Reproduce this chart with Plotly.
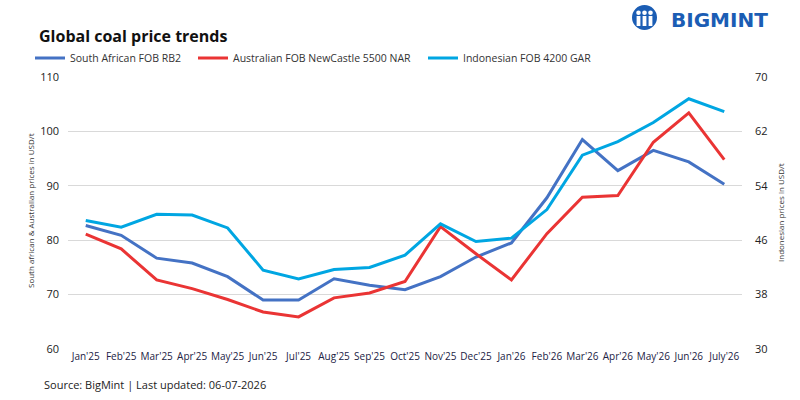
import plotly.graph_objects as go

months = ["Jan'25", "Feb'25", "Mar'25", "Apr'25", "May'25", "Jun'25", "Jul'25", "Aug'25",
          "Sep'25", "Oct'25", "Nov'25", "Dec'25", "Jan'26", "Feb'26", "Mar'26", "Apr'26",
          "May'26", "Jun'26", "July'26"]
south_african = [82.7, 80.9, 76.7, 75.8, 73.3, 69.0, 69.0, 72.9, 71.7, 70.9, 73.3, 76.9,
                 79.5, 87.8, 98.5, 92.8, 96.5, 94.4, 90.3]
australian = [81.1, 78.4, 72.7, 71.1, 69.1, 66.8, 65.9, 69.4, 70.3, 72.4, 82.5, 77.5,
              72.7, 81.2, 87.9, 88.2, 98.0, 103.4, 94.8]
indonesian = [48.9, 47.9, 49.8, 49.7, 47.8, 41.6, 40.3, 41.7, 42.0, 43.8, 48.4, 45.8,
              46.3, 50.5, 58.5, 60.5, 63.3, 66.8, 64.9]

left_ticks = [60, 70, 80, 90, 100, 110]
right_ticks = [30, 38, 46, 54, 62, 70]

FONT = "Open Sans"
BLUE = "#4472C4"
RED = "#EA3434"
CYAN = "#00A6E2"
LOGO = "#1B5DB4"

# plot-area geometry in pixels (for paper-coordinate conversions of decorations)
PL, PR, PT, PB = 68, 742, 77, 349


def px(x):
    return (x - PL) / (PR - PL)


def py(y):
    return (PB - y) / (PB - PT)


fig = go.Figure()
fig.add_trace(go.Scatter(x=months, y=south_african, name="South African FOB RB2",
                         mode="lines", line=dict(color=BLUE, width=3), legendwidth=118))
fig.add_trace(go.Scatter(x=months, y=australian, name="Australian FOB NewCastle 5500 NAR",
                         mode="lines", line=dict(color=RED, width=3), legendwidth=185))
fig.add_trace(go.Scatter(x=months, y=indonesian, name="Indonesian FOB 4200 GAR",
                         mode="lines", line=dict(color=CYAN, width=3), yaxis="y2",
                         legendwidth=150))

fig.update_layout(
    width=800, height=400,
    margin=dict(l=PL, r=800 - PR, t=PT, b=400 - PB),
    paper_bgcolor="white", plot_bgcolor="white",
    font=dict(family=FONT, size=10, color="#222222"),
    showlegend=True,
    legend=dict(orientation="h", x=px(30), y=py(58), xanchor="left", yanchor="middle",
                font=dict(family=FONT, size=10.5, color="#333333"),
                itemwidth=30, tracegroupgap=0),
    xaxis=dict(showgrid=False, showline=False, zeroline=False, ticks="",
               tickfont=dict(size=10, color="#222244"), tickangle=0,
               range=[-0.5, 18.5], fixedrange=True),
    yaxis=dict(range=[60, 110], tickvals=left_ticks, showgrid=True, gridcolor="#d9d9d9",
               gridwidth=1, zeroline=False, showline=False, ticks="",
               tickfont=dict(size=11, color="#222222"), ticklabelstandoff=8),
    yaxis2=dict(range=[30, 70], tickvals=right_ticks, overlaying="y", side="right",
                showgrid=False, zeroline=False, showline=False, ticks="",
                tickfont=dict(size=11, color="#222222"), ticklabelstandoff=12),
)

fig.add_annotation(text="<b>Global coal price trends</b>", xref="paper", yref="paper",
                   x=px(37), y=py(36), xanchor="left", yanchor="middle", showarrow=False,
                   font=dict(family=FONT, size=16, color="#111111"))
fig.add_annotation(text="Source: BigMint | Last updated: 06-07-2026", xref="paper", yref="paper",
                   x=px(42), y=py(384), xanchor="left", yanchor="middle", showarrow=False,
                   font=dict(family=FONT, size=11, color="#222222"))
fig.add_annotation(text="South african & Australian prices in USD/t", xref="paper", yref="paper",
                   x=px(30), y=py(211), xanchor="center", yanchor="middle", textangle=-90,
                   showarrow=False, font=dict(family=FONT, size=8, color="#333333"))
fig.add_annotation(text="Indonesian prices in USD/t", xref="paper", yref="paper",
                   x=px(780), y=py(213), xanchor="center", yanchor="middle", textangle=-90,
                   showarrow=False, font=dict(family=FONT, size=8, color="#333333"))

# logo
fig.add_annotation(text="<b>BIGMINT</b>", xref="paper", yref="paper",
                   x=px(770), y=py(20), xanchor="right", yanchor="middle", showarrow=False,
                   font=dict(family="DejaVu Sans", size=20, color=LOGO))
fig.add_shape(type="circle", xref="paper", yref="paper",
              x0=px(632), x1=px(657), y0=py(30), y1=py(5),
              fillcolor=LOGO, line=dict(width=0))
for cx in [638.5, 644.5, 650.5]:
    fig.add_shape(type="circle", xref="paper", yref="paper",
                  x0=px(cx - 2.3), x1=px(cx + 2.3), y0=py(15), y1=py(10.4),
                  fillcolor="white", line=dict(width=0))
    fig.add_shape(type="rect", xref="paper", yref="paper",
                  x0=px(cx - 1.9), x1=px(cx + 1.9), y0=py(26), y1=py(16),
                  fillcolor="white", line=dict(width=0))

fig.write_html("out.html")
